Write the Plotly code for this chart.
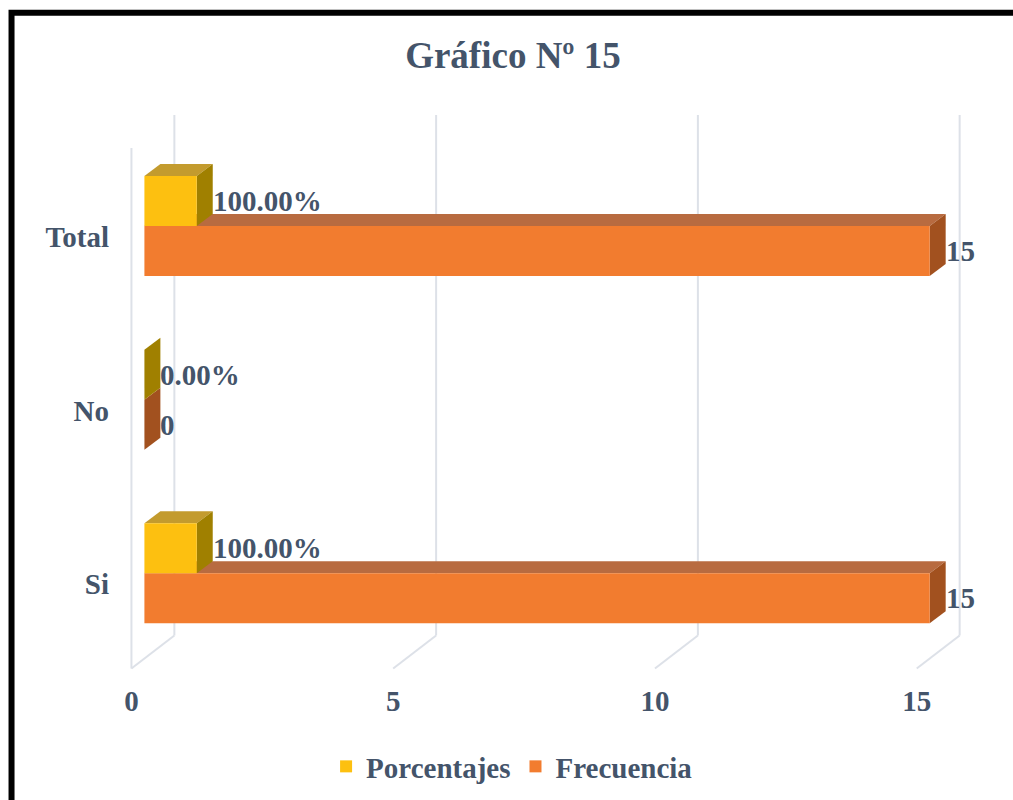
import plotly.graph_objects as go

# ---- data ----
categories = ["Si", "No", "Total"]
frecuencia = [15, 0, 15]
porcentajes = [1.0, 0.0, 1.0]          # 100% plotted as length 1 on the shared axis
porcentaje_labels = ["100.00%", "0.00%", "100.00%"]
x_ticks = [0, 5, 10, 15]

# ---- style / geometry constants ----
FONT = "Liberation Serif, Times New Roman, serif"
TXT = "#44546A"
W, H = 1013, 800
L, R, T, B = 112.56, W - 112.56 - 890.8, 101.08, 800 - 680.57
XR = [-0.6, 16.4]
YR = [-0.62, 2.72]
BW = 0.288            # bar thickness (category units)
DX, DY = 0.305, 0.069  # bar depth offsets
LABEL_SHIFT_X = 0.248
LABEL_SHIFT_Y = 0.063
FLOOR_FRONT_Y = -0.548
FLOOR_DX, FLOOR_DY = 0.82, 0.19
WALL_TOP = 2.64
GRID = "#DDE1E8"
FS = 29

Y_FRONT = "#FDC010"; Y_TOP = "#C39B2E"; Y_SIDE = "#A08000"
O_FRONT = "#F27C2F"; O_TOP = "#B86B40"; O_SIDE = "#A2511F"

pos = list(range(len(categories)))
fig = go.Figure()

fig.add_trace(go.Bar(name="<b>Frecuencia</b>", y=pos, x=frecuencia, orientation="h",
                     offset=-BW, width=BW, marker=dict(color=O_FRONT, line=dict(width=0)),
                     legendrank=2, hoverinfo="x"))
fig.add_trace(go.Bar(name="<b>Porcentajes</b>", y=pos, x=porcentajes, orientation="h",
                     offset=0, width=BW, marker=dict(color=Y_FRONT, line=dict(width=0)),
                     legendrank=1, hoverinfo="x"))

shapes = []
# grid: back wall, floor diagonals, left wall front edge
for t in x_ticks:
    fx, bx = t - LABEL_SHIFT_X, t - LABEL_SHIFT_X + FLOOR_DX
    by = FLOOR_FRONT_Y + FLOOR_DY
    shapes.append(dict(type="line", xref="x", yref="y", x0=bx, x1=bx, y0=by, y1=WALL_TOP,
                       line=dict(color=GRID, width=2), layer="below"))
    shapes.append(dict(type="line", xref="x", yref="y", x0=fx, x1=bx, y0=FLOOR_FRONT_Y, y1=by,
                       line=dict(color=GRID, width=2), layer="below"))
fx0 = x_ticks[0] - LABEL_SHIFT_X
shapes.append(dict(type="line", xref="x", yref="y", x0=fx0, x1=fx0, y0=FLOOR_FRONT_Y,
                   y1=WALL_TOP - FLOOR_DY, line=dict(color=GRID, width=2), layer="below"))


def faces(v, y0, y1, top, side):
    out = []
    out.append(dict(type="path", xref="x", yref="y", layer="below", line=dict(width=0),
                    fillcolor=top,
                    path=f"M 0,{y1} L {v},{y1} L {v+DX},{y1+DY} L {DX},{y1+DY} Z"))
    out.append(dict(type="path", xref="x", yref="y", layer="below", line=dict(width=0),
                    fillcolor=side,
                    path=f"M {v},{y0} L {v+DX},{y0+DY} L {v+DX},{y1+DY} L {v},{y1} Z"))
    return out


for c, v in zip(pos, frecuencia):
    shapes += faces(v, c - BW, c, O_TOP, O_SIDE)
for c, v in zip(pos, porcentajes):
    shapes += faces(v, c, c + BW, Y_TOP, Y_SIDE)

# outer black frame
px = lambda p: (p - L) / 890.8
py = lambda p: (680.57 - p) / (680.57 - T)
shapes.append(dict(type="rect", xref="paper", yref="paper", x0=px(11), x1=px(1100),
                   y0=py(900), y1=py(13), line=dict(color="black", width=6)))

annotations = []
for c, v in zip(pos, frecuencia):
    annotations.append(dict(x=v + DX, y=c - BW / 2, xref="x", yref="y", text=f"<b>{v}</b>",
                            showarrow=False, xanchor="left", yanchor="middle", xshift=-2,
                            font=dict(family=FONT, size=FS, color=TXT)))
for c, v, lab in zip(pos, porcentajes, porcentaje_labels):
    annotations.append(dict(x=v + DX, y=c + BW / 2, xref="x", yref="y", text=f"<b>{lab}</b>",
                            showarrow=False, xanchor="left", yanchor="middle", xshift=-2,
                            font=dict(family=FONT, size=FS, color=TXT)))

fig.update_layout(
    width=W, height=H,
    margin=dict(l=L, r=R, t=T, b=B, autoexpand=False),
    paper_bgcolor="white", plot_bgcolor="white",
    title=dict(text="<b>Gráfico Nº 15</b>", x=513 / W, xanchor="center",
               y=1 - 55 / H, yanchor="middle",
               font=dict(family=FONT, size=37, color=TXT)),
    font=dict(family=FONT, color=TXT),
    xaxis=dict(range=XR, showgrid=False, zeroline=False, showline=False,
               tickvals=[t - LABEL_SHIFT_X for t in x_ticks], ticktext=[f"<b>{t}</b>" for t in x_ticks],
               tickfont=dict(family=FONT, size=FS, color=TXT), ticks=""),
    yaxis=dict(range=YR, showgrid=False, zeroline=False, showline=False,
               tickvals=[c - LABEL_SHIFT_Y for c in pos], ticktext=[f"<b>{c}</b>" for c in categories],
               tickfont=dict(family=FONT, size=FS, color=TXT), ticks="", ticklabelstandoff=3),
    showlegend=True,
    legend=dict(orientation="h", x=(512 - L) / 890.8, xanchor="center",
                y=py(766), yanchor="middle",
                font=dict(family=FONT, size=FS, color=TXT), itemwidth=30,
                traceorder="normal"),
    shapes=shapes, annotations=annotations,
)

fig.write_html("out.html", config={"displayModeBar": False},
               post_script="document.body.style.margin='0';document.body.style.overflow='hidden';")
